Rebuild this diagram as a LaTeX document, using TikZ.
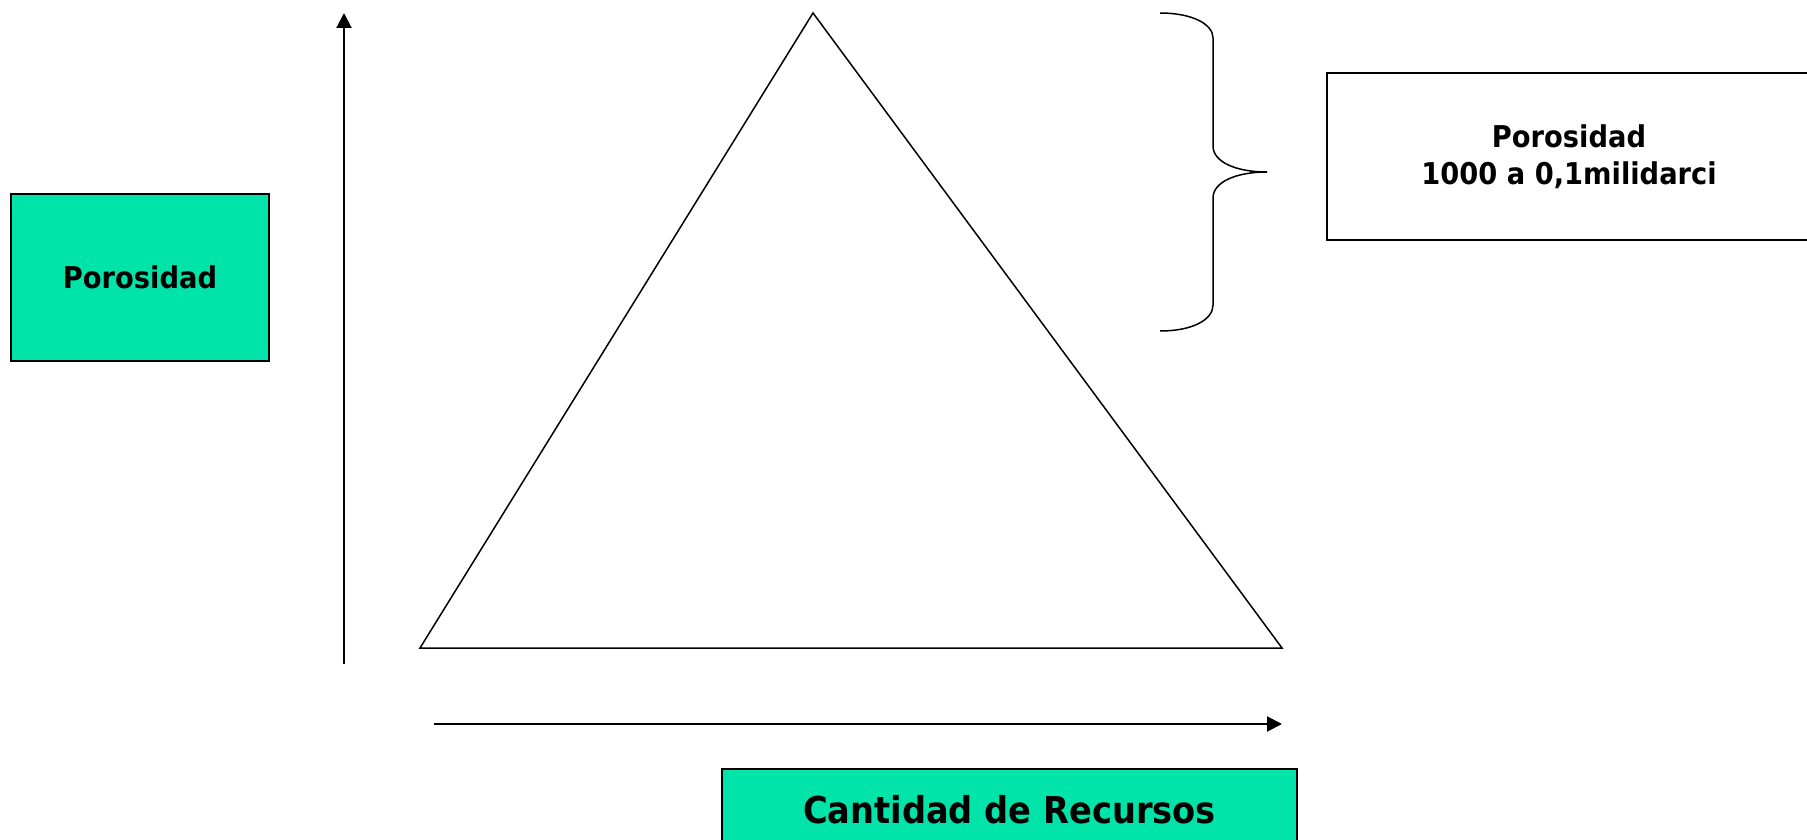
\documentclass[tikz,border=0pt]{standalone}
\usepackage{fontspec}
\setmainfont{DejaVu Sans}[FakeStretch=0.91]
\usetikzlibrary{arrows.meta}
\definecolor{boxgreen}{RGB}{0,228,170}
\tikzset{
  greenbox/.style={draw=black, line width=2pt, fill=boxgreen, inner sep=0pt, font=\bfseries\fontsize{30}{37}\selectfont},
  whitebox/.style={draw=black, line width=2pt, fill=white, inner sep=0pt, align=center, font=\bfseries\fontsize{30}{37}\selectfont},
  thinline/.style={line width=1.5pt, line join=miter},
  axis/.style={line width=2pt, -{Triangle[length=15pt,width=15pt]}}
}
\begin{document}
\begin{tikzpicture}[x=1pt,y=-1pt]
\useasboundingbox (0,0) rectangle (1807,840);
% boxes
\node[greenbox, minimum width=258pt, minimum height=167pt] (poro) at (140,277.5) {Porosidad};
\node[whitebox, minimum width=484pt, minimum height=167pt] (range) at (1569,156.5) {Porosidad\\1000 a 0,1milidarci};
\node[greenbox, minimum width=575pt, minimum height=82pt, font=\bfseries\fontsize{37}{44}\selectfont] (cant) at (1009.5,810) {Cantidad de Recursos};
% triangle
\coordinate (apex) at (813,13);
\coordinate (bl) at (420,648);
\coordinate (br) at (1282,648);
\draw[thinline] (apex) -- (br) -- (bl) -- cycle;
% axes
\coordinate (vs) at (344,664);
\coordinate (ve) at (344,13);
\draw[axis] (vs) -- (ve);
\coordinate (hs) at (434,724);
\coordinate (he) at (1282,724);
\draw[axis] (hs) -- (he);
% brace
\coordinate (b1) at (1160,13);
\coordinate (b2) at (1213,38);
\coordinate (b3) at (1213,146);
\coordinate (tip) at (1267,172);
\coordinate (b4) at (1213,198);
\coordinate (b5) at (1213,305);
\coordinate (b6) at (1160,331);
\draw[thinline] (b1) .. controls (1192,13) and (1213,24) .. (b2) -- (b3)
  .. controls (1213,162) and (1236,172) .. (tip)
  .. controls (1236,172) and (1213,182) .. (b4) -- (b5)
  .. controls (1213,320) and (1192,331) .. (b6);
\end{tikzpicture}
\end{document}
